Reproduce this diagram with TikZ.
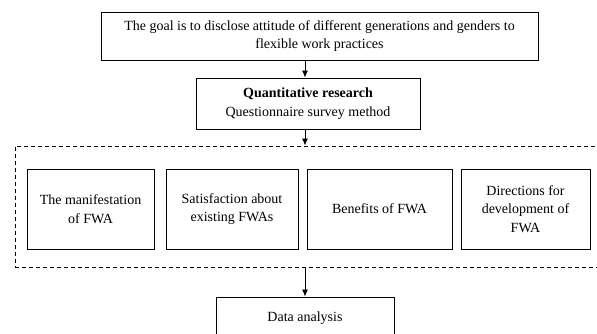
\documentclass[tikz,border=0pt]{standalone}
\usepackage{fontspec}
\setmainfont{Liberation Serif}
\usetikzlibrary{arrows.meta}

\begin{document}
\begin{tikzpicture}[x=1pt,y=-1pt,
  box/.style={draw,line width=0.8pt,align=center,inner sep=0pt,font=\fontsize{14}{18.5}\selectfont},
  arr/.style={-{Latex[length=7pt,width=6pt]},line width=0.9pt}]
\def\bh{80}
\def\by{209}

\useasboundingbox (0,0) rectangle (597,334);
\clip (0,0) rectangle (597,334);

% goal and method
\node[box,minimum width=437,minimum height=48] (goal) at (319.5,36) {The goal is to disclose attitude of different generations and genders to\\flexible work practices};
\node[box,minimum width=224,minimum height=51] (quant) at (308,103.5) {\textbf{Quantitative research}\\Questionnaire survey method};

% dashed frame with the four topics
\node[draw,line width=0.8pt,dash pattern=on 4pt off 3pt,minimum width=590,minimum height=121] (frame) at (310,206.5) {};
\node[box,minimum width=127,minimum height=\bh] (manif) at (90.5,\by) {The manifestation\\of FWA};
\node[box,minimum width=132,minimum height=\bh] (satis) at (232,\by) {Satisfaction about\\existing FWAs};
\node[box,minimum width=145,minimum height=\bh] (benef) at (379.5,\by) {Benefits of FWA};
\node[box,minimum width=129,minimum height=\bh] (direc) at (525.5,\by) {Directions for\\development of\\FWA};

\node[box,minimum width=178,minimum height=42] (data) at (305,318) {Data analysis};

\draw[arr] (goal.south -| data.north) -- (quant.north -| data.north);
\draw[arr] (quant.south -| data.north) -- (frame.north -| data.north);
\draw[arr] (frame.south -| data.north) -- (data.north);
\end{tikzpicture}
\end{document}
